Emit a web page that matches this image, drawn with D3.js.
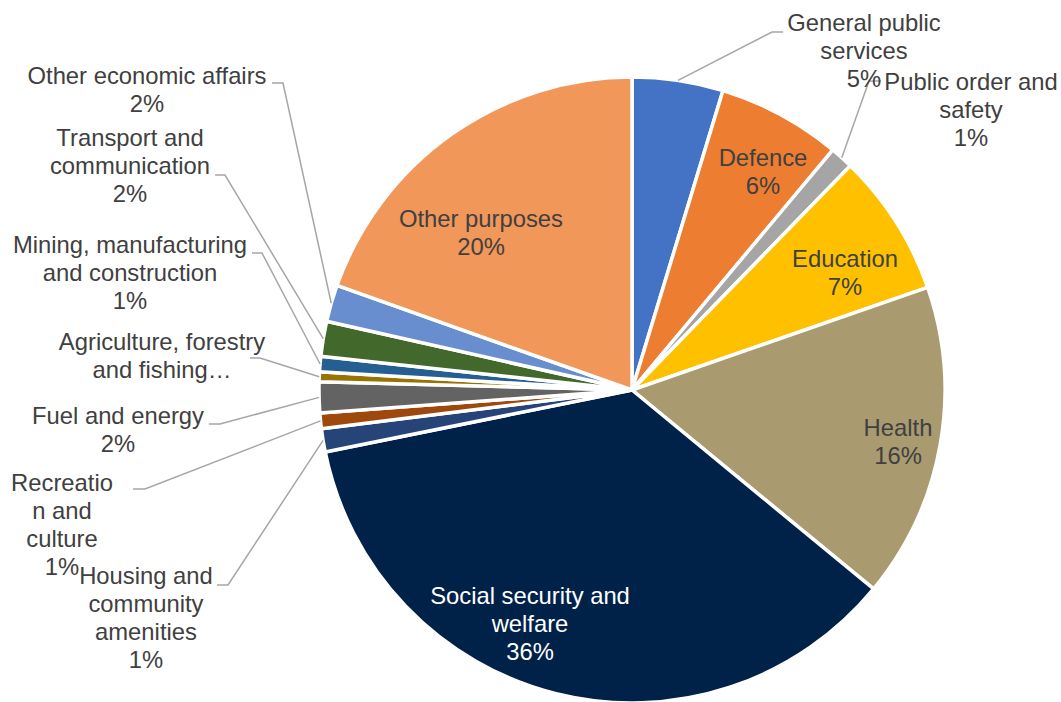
<!DOCTYPE html>
<html>
<head>
<meta charset="utf-8">
<script src="https://cdn.jsdelivr.net/npm/d3@7"></script>
<style>
    body { margin: 0; background: #fff; }
    svg { display: block; }
</style>
</head>
<body>
<svg id="viz_pie"></svg>
<script>
// Slices, clockwise from 12 o'clock
var categories = [
    "General public services",
    "Defence",
    "Public order and safety",
    "Education",
    "Health",
    "Social security and welfare",
    "Housing and community amenities",
    "Recreation and culture",
    "Fuel and energy",
    "Agriculture, forestry and fishing",
    "Mining, manufacturing and construction",
    "Transport and communication",
    "Other economic affairs",
    "Other purposes"
];

// share of spending, %
var values = [4.7, 6.4, 1.2, 7.4, 16.3, 35.9, 1.2, 0.8, 1.6, 0.5, 0.8, 1.8, 1.9, 19.6];

// wrapped label text as shown (percent line is added from the values)
var labelLines = [
    ["General public", "services"],
    ["Defence"],
    ["Public order and", "safety"],
    ["Education"],
    ["Health"],
    ["Social security and", "welfare"],
    ["Housing and", "community", "amenities"],
    ["Recreatio", "n and", "culture"],
    ["Fuel and energy"],
    ["Agriculture, forestry", "and fishing\u2026"],
    ["Mining, manufacturing", "and construction"],
    ["Transport and", "communication"],
    ["Other economic affairs"],
    ["Other purposes"]
];
var showPct = [true, true, true, true, true, true, true, true, true, false, true, true, true, true];

var colors = ["#4472C4", "#ED7D31", "#A5A5A5", "#FFC000", "#A99A6F", "#002248", "#264478",
    "#9E480E", "#636363", "#997300", "#255E91", "#43682B", "#698ED0", "#F1975A"];

// label placement: text centre x, first baseline y; leader = text end, elbow (null = inside label)
var layout = [
    {x: 864, y: 31, lead: [[783, 32], [772, 32]]},
    {x: 763, y: 166, lead: null},
    {x: 971, y: 90, lead: [[881, 81], [869, 81]]},
    {x: 845, y: 267, lead: null},
    {x: 898, y: 436, lead: null},
    {x: 530, y: 604, lead: null, fill: "#fff"},
    {x: 146, y: 584, lead: [[217, 585], [228, 585]]},
    {x: 62, y: 491, lead: [[133, 489], [145, 489]]},
    {x: 118, y: 424, lead: [[209, 424], [220, 424]]},
    {x: 162, y: 350, lead: [[250, 358], [260, 358]]},
    {x: 130, y: 253, lead: [[252, 253], [262, 253]]},
    {x: 130, y: 146, lead: [[215, 175], [225, 175]]},
    {x: 147, y: 84, lead: [[272, 83], [283, 83]]},
    {x: 481, y: 227, lead: null}
];

var width = 1061, height = 702;
var cx = 632, cy = 390, radius = 313;
var lineH = 28;
var fmt = d3.format(".0%");

var data = categories.map(function(c, i) {
    return {name: c, value: values[i], i: i};
});

var pie = d3.pie()
    .sort(null)
    .value(function(d) { return d.value; });

var arc = d3.arc()
    .innerRadius(0)
    .outerRadius(radius);

var total = d3.sum(values);
var arcs = pie(data);

var svg = d3.select("#viz_pie")
    .attr("width", width)
    .attr("height", height);

var g = svg.append("g")
    .attr("transform", "translate(" + cx + "," + cy + ")");

g.selectAll("path")
    .data(arcs)
    .enter().append("path")
    .attr("d", arc)
    .attr("fill", function(d) { return colors[d.data.i]; })
    .attr("stroke", "#fff")
    .attr("stroke-width", 3.5)
    .attr("stroke-linejoin", "round");

// leader lines
arcs.forEach(function(d) {
    var L = layout[d.data.i];
    if(!L.lead) return;
    var mid = (d.startAngle + d.endAngle) / 2;
    var px = cx + radius * Math.sin(mid);
    var py = cy - radius * Math.cos(mid);
    var pts = L.lead.concat([[px, py]]);
    svg.append("path")
        .attr("d", d3.line()(pts))
        .attr("fill", "none")
        .attr("stroke", "#A6A6A6")
        .attr("stroke-width", 1.5);
});

// labels
arcs.forEach(function(d) {
    var i = d.data.i;
    var L = layout[i];
    var lines = labelLines[i].slice();
    if(showPct[i]) lines.push(fmt(d.data.value / total));
    var t = svg.append("text")
        .attr("text-anchor", "middle")
        .attr("fill", L.fill || "#404040")
        .style("font", "23.8px 'Liberation Sans', Arial, sans-serif");
    lines.forEach(function(s, k) {
        t.append("tspan")
            .attr("x", L.x)
            .attr("y", L.y + k * lineH)
            .text(s);
    });
});
</script>
</body>
</html>
